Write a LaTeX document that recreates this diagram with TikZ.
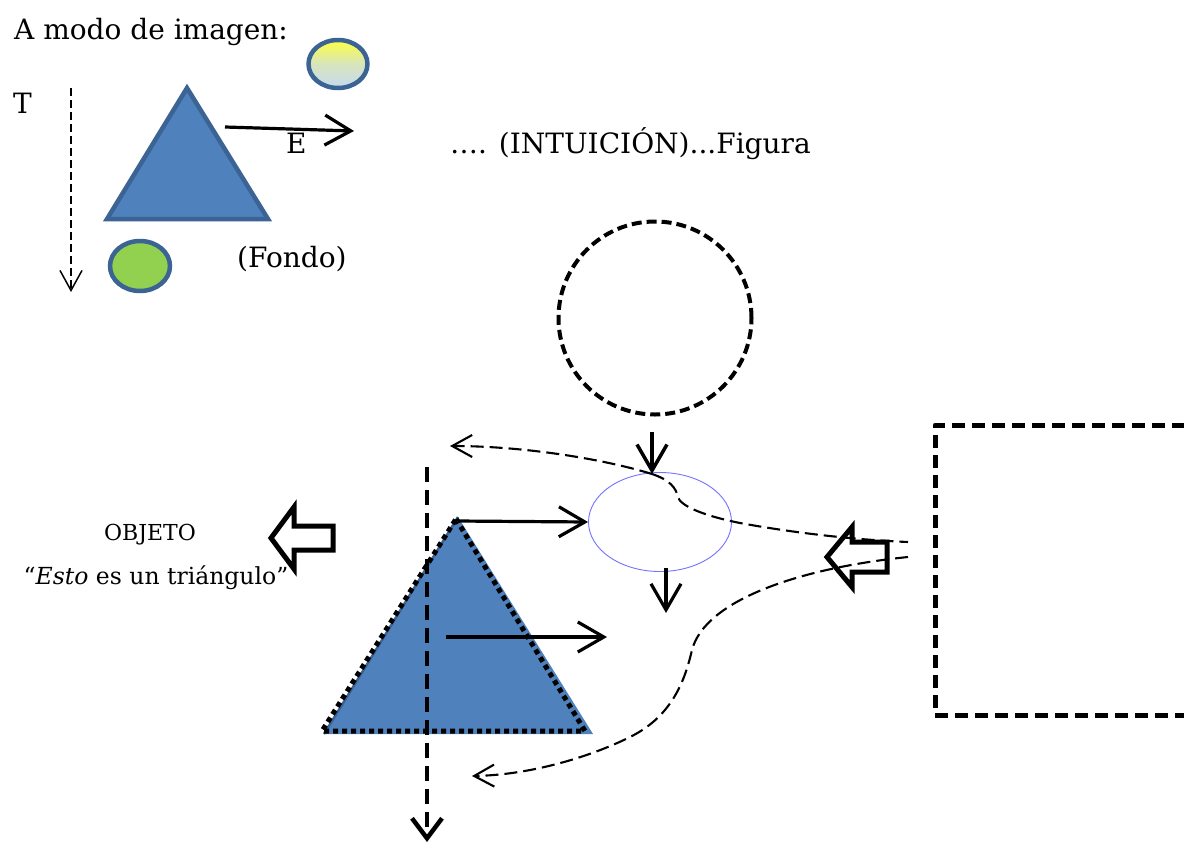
\documentclass[tikz,border=0pt]{standalone}
\usepackage{fontspec}
\setmainfont{DejaVu Serif}
\usetikzlibrary{arrows.meta,positioning,shapes.geometric}
\definecolor{figBlue}{HTML}{4F81BD}
\definecolor{figEdge}{HTML}{3B6394}
\definecolor{figYellow}{HTML}{FFFF40}
\definecolor{figSky}{HTML}{C6D9F1}
\definecolor{figGreen}{HTML}{92D050}
\definecolor{figLine}{HTML}{7373FF}

\begin{document}
\begin{tikzpicture}[x=1pt,y=-1pt,line join=round]
\path[fill=white] (0,0) rectangle (1184,844);
\useasboundingbox (0,0) rectangle (1184,844);
\tikzset{bigtext/.style={font=\fontsize{28}{32}\selectfont,inner sep=0pt},
  midtext/.style={font=\fontsize{22}{26}\selectfont,inner sep=0pt},
  barb/.style={-{Straight Barb[length=26pt,width=30pt]}},
  thinbarb/.style={-{Straight Barb[length=20pt,width=22pt]}},
  arrowline/.style={draw,line width=3.2pt,barb},
  trishape/.style={fill=figBlue,draw=figEdge,line width=4.5pt,line join=miter},
  blob/.style={ellipse,draw=figEdge,line width=4.5pt,inner sep=0pt},
  curvy/.style={draw,line width=2.1pt,dash pattern=on 13pt off 6pt,thinbarb},
  blockarrow/.style={draw,line width=5pt,line join=miter}}
% upper sketch
\node[bigtext,anchor=base west] (title) at (14,39) {A modo de imagen:};
\node[bigtext,anchor=base west] (tlabel) at (13,113) {T};
\draw[line width=1.5pt,dash pattern=on 8pt off 4pt,-{Straight Barb[length=20pt,width=22pt]}] (71,88) -- (71,292);
\draw[trishape] (187,88) -- (268,219) -- (107,219) -- cycle;
\node[blob,top color=figYellow,bottom color=figSky,middle color=figYellow!30!figSky,minimum width=59pt,minimum height=48pt] (sun) at (338,64) {};
\node[blob,fill=figGreen,minimum width=60pt,minimum height=50pt] (grass) at (140,266) {};
\coordinate (eFrom) at (225,127);
\coordinate (eTo) at (354,131);
\draw[arrowline] (eFrom) -- (eTo);
\node[bigtext,anchor=base west] (elabel) at (286,153) {E};
\node[bigtext,anchor=base west] (fondo) at (237,267) {(Fondo)};
\node[bigtext,anchor=base west] (intu) at (450,153) {…. (INTUICIÓN)...Figura};
% lower sketch
\node[circle,draw,line width=4pt,dash pattern=on 10pt off 5pt,minimum size=193pt] (idea) at (655,318) {};
\node[ellipse,draw=figLine,line width=0.9pt,minimum width=143pt,minimum height=99pt] (percept) at (660,522) {};
\node[draw,line width=5pt,dash pattern=on 13pt off 7pt,minimum width=300pt,minimum height=290pt] (frame) at (1085,570) {};
\coordinate (meet) at (652,474);
\coordinate (ideaOut) at (652,432);
\draw[arrowline,line width=3.5pt] (ideaOut) -- (meet);
\coordinate (dropFrom) at (666,568);
\coordinate (dropTo) at (666,613);
\draw[arrowline] (dropFrom) -- (dropTo);
\fill[figBlue] (458,517) -- (593,734) -- (324,734) -- cycle;
\draw[figEdge,line width=2.5pt] (458,517) -- (324,734);
\draw[line width=5pt,dash pattern=on 5pt off 4pt] (456,519) -- (585,731) -- (322,731) -- cycle;
\coordinate (apex) at (457,521);
\draw[arrowline] (apex) -- (percept.west);
\coordinate (midFrom) at (446,637);
\coordinate (midTo) at (607,637);
\draw[arrowline] (midFrom) -- (midTo);
\draw[line width=4.5pt,dash pattern=on 15pt off 8pt,-{Straight Barb[length=20pt,width=30pt]}] (427,467) -- (427,842);
\coordinate (backTop) at (450,446);
\coordinate (backLow) at (472,776);
\coordinate (linkTop) at (908,542);
\coordinate (linkLow) at (908,557);
\draw[curvy] (meet) .. controls (600,458) and (520,446) .. (backTop);
\draw[curvy,-] (meet) .. controls (670,480) and (676,488) .. (678,497)
  .. controls (680,505) and (700,515) .. (740,523)
  .. controls (800,534) and (860,540) .. (linkTop);
\draw[curvy] (linkLow) .. controls (800,568) and (705,600) .. (692,650)
  .. controls (686,675) and (675,715) .. (630,737)
  .. controls (590,757) and (530,775) .. (backLow);
\draw[blockarrow] (271,538) -- ++(23,-31) -- ++(0,19) -- ++(39,0) -- ++(0,24) -- ++(-39,0) -- ++(0,19) -- cycle;
\draw[blockarrow] (827,557) -- ++(25,-30) -- ++(0,15) -- ++(35,0) -- ++(0,30) -- ++(-35,0) -- ++(0,15) -- cycle;
\node[midtext] (objeto) at (150,535) {OBJETO};
\node[midtext,font=\fontsize{23.5}{28}\selectfont] (quote) at (156,578) {“\textit{Esto} es un triángulo”};
\end{tikzpicture}
\end{document}
